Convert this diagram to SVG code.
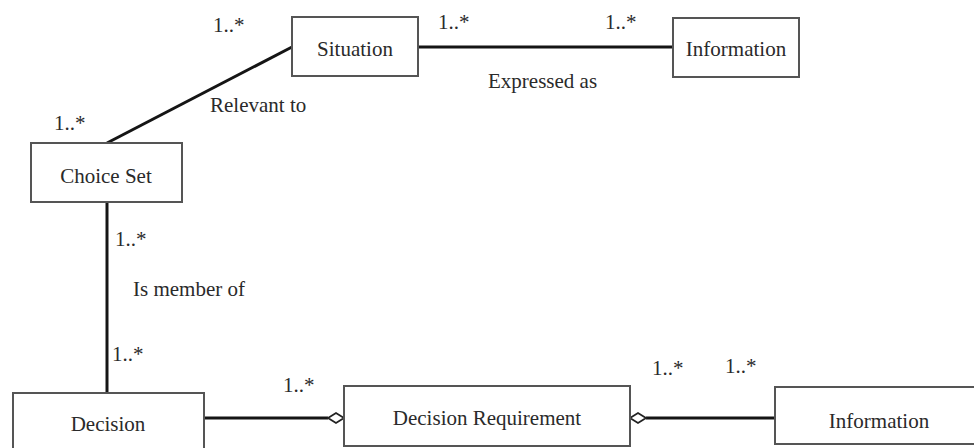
<svg xmlns="http://www.w3.org/2000/svg" width="974" height="448" viewBox="0 0 974 448">
<style>
  .box { fill: #ffffff; stroke: #555555; stroke-width: 2; }
  .lbl { font-family: "Liberation Serif", "Times New Roman", serif; font-size: 21px; fill: #2a2a2a; }
  .name { text-anchor: middle; }
  .line { stroke: #151515; stroke-width: 3; fill: none; }
  .dia { fill: #ffffff; stroke: #222222; stroke-width: 1.8; }
</style>
<rect width="974" height="448" fill="#ffffff"/>
<g id="connectors">
  <line class="line" x1="107" y1="143" x2="292" y2="47"/>
  <line class="line" x1="418" y1="47" x2="673" y2="47"/>
  <line class="line" x1="107" y1="202" x2="107" y2="393"/>
  <line class="line" x1="204" y1="418" x2="328" y2="418"/>
  <polygon class="dia" points="328,418 336,413 344,418 336,423"/>
  <line class="line" x1="646" y1="418" x2="775" y2="418"/>
  <polygon class="dia" points="630,418 638,413 646,418 638,423"/>
  <text class="lbl" x="213" y="32">1..*</text>
  <text class="lbl" x="54" y="130">1..*</text>
  <text class="lbl" x="210" y="112">Relevant to</text>
  <text class="lbl" x="438" y="29">1..*</text>
  <text class="lbl" x="605" y="29">1..*</text>
  <text class="lbl" x="488" y="88">Expressed as</text>
  <text class="lbl" x="115" y="246">1..*</text>
  <text class="lbl" x="133" y="296">Is member of</text>
  <text class="lbl" x="112" y="361">1..*</text>
  <text class="lbl" x="283" y="392">1..*</text>
  <text class="lbl" x="652" y="375">1..*</text>
  <text class="lbl" x="725" y="373">1..*</text>
</g>
<g id="situation">
  <rect class="box" x="292" y="17" width="126" height="59"/>
  <text class="lbl name" x="355" y="56">Situation</text>
</g>
<g id="information-top">
  <rect class="box" x="673" y="18" width="126" height="59"/>
  <text class="lbl name" x="736" y="56">Information</text>
</g>
<g id="choice-set">
  <rect class="box" x="31" y="143" width="151" height="59"/>
  <text class="lbl name" x="106" y="183">Choice Set</text>
</g>
<g id="decision">
  <rect class="box" x="13" y="393" width="191" height="62"/>
  <text class="lbl name" x="108" y="431">Decision</text>
</g>
<g id="decision-requirement">
  <rect class="box" x="344" y="386" width="286" height="60"/>
  <text class="lbl name" x="487" y="425">Decision Requirement</text>
</g>
<g id="information-bottom">
  <rect class="box" x="775" y="387" width="210" height="57"/>
  <text class="lbl name" x="879" y="428">Information</text>
</g>
</svg>
